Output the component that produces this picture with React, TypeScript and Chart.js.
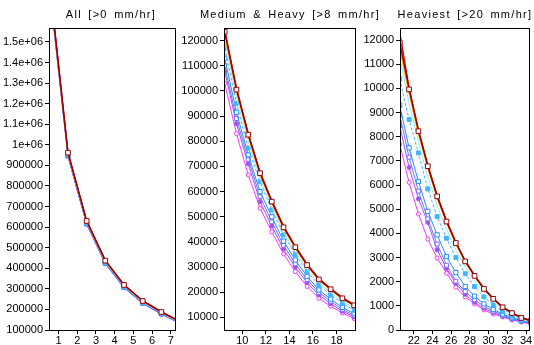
import React, { useEffect, useRef } from "react";
import { Chart, registerables } from "chart.js";
Chart.register(...registerables);

// ---------- data ----------
const xAll = [0.5, 1.5, 2.5, 3.5, 4.5, 5.5, 6.5, 7.5];
const xMed = [8.5, 9.5, 10.5, 11.5, 12.5, 13.5, 14.5, 15.5, 16.5, 17.5, 18.5, 19.5];
const xHeavy = [20.5, 21.5, 22.5, 23.5, 24.5, 25.5, 26.5, 27.5, 28.5, 29.5, 30.5, 31.5, 32.5, 33.5, 34.5];

const darkRedAll = [1800000, 962000, 630000, 437000, 319000, 241000, 187500, 141000];
const redAll = [1810000, 965000, 632000, 439000, 321000, 243000, 189000, 142000];
const orangeAll = [1805000, 963000, 631000, 438000, 320000, 242000, 188000, 141500];
const yellowAll = [1795000, 958000, 627000, 434000, 316000, 239000, 185500, 139500];
const paleCyanAll = [1790000, 955000, 624000, 431000, 313000, 236000, 183000, 137500];
const lightBlueAll = [1785000, 952000, 621000, 428000, 311000, 234000, 181000, 136000];
const blueAll = [1780000, 948000, 617000, 425000, 308000, 232000, 179500, 135000];
const violetAll = [1778000, 947000, 616000, 424000, 307000, 231000, 178500, 134000];
const purpleAll = [1775000, 945000, 615000, 423000, 306000, 230000, 177500, 133500];
const magentaAll = [1772000, 944000, 614000, 422000, 305000, 229000, 176000, 132000];

const darkRedMed = [123500, 100500, 82600, 67300, 56000, 45800, 37900, 30800, 25100, 21200, 17600, 14800];
const redMed = [124500, 101300, 83200, 67900, 56500, 46300, 38300, 31200, 25500, 21500, 17900, 15100];
const orangeMed = [124000, 100900, 82900, 67600, 56200, 46000, 38100, 31000, 25300, 21300, 17700, 14900];
const yellowMed = [122000, 99500, 81500, 66500, 55200, 45100, 37300, 30300, 24700, 20800, 17200, 14400];
const paleCyanMed = [120000, 97500, 79800, 65000, 53800, 43800, 36000, 29200, 23800, 19900, 16400, 13700];
const lightBlueMed = [117000, 95000, 77300, 63900, 52700, 42800, 35000, 28200, 22900, 19000, 15600, 12900];
const blueMed = [113000, 91500, 74600, 60000, 50000, 40300, 32800, 26300, 20900, 17300, 14000, 11500];
const violetMed = [110000, 89000, 72800, 58000, 48000, 38700, 31300, 25000, 19900, 16400, 13200, 10800];
const purpleMed = [108000, 87000, 71000, 56000, 46300, 37200, 30000, 23900, 18900, 15500, 12500, 10200];
const magentaMed = [103000, 83000, 66600, 53400, 44000, 35200, 28200, 22300, 17600, 14400, 11800, 9500];

const darkRedHeavy = [11900, 9960, 8230, 6780, 5530, 4490, 3600, 2840, 2240, 1700, 1290, 940, 700, 500, 380];
const redHeavy = [12350, 10050, 8300, 6840, 5580, 4540, 3640, 2870, 2270, 1730, 1310, 960, 720, 520, 400];
const orangeHeavy = [12200, 10000, 8260, 6810, 5560, 4520, 3620, 2860, 2260, 1720, 1300, 950, 710, 510, 390];
const yellowHeavy = [11600, 9750, 8080, 6680, 5440, 4410, 3540, 2790, 2200, 1670, 1260, 920, 690, 490, 370];
const paleCyanHeavy = [11300, 9400, 7800, 6350, 5150, 4180, 3330, 2620, 2060, 1560, 1180, 860, 640, 460, 350];
const lightBlueHeavy = [10400, 8710, 7330, 5840, 4700, 3800, 3000, 2330, 1800, 1370, 1040, 760, 570, 410, 310];
const blueHeavy = [9300, 7540, 6150, 4910, 3940, 3040, 2380, 1800, 1400, 1080, 850, 660, 510, 390, 300];
const violetHeavy = [8900, 7150, 5750, 4600, 3560, 2680, 2020, 1590, 1250, 980, 780, 610, 470, 370, 290];
const purpleHeavy = [8440, 6730, 5430, 4450, 3320, 2550, 1930, 1480, 1150, 900, 720, 570, 440, 350, 270];
const magentaHeavy = [7680, 6110, 4800, 3760, 2980, 2350, 1770, 1360, 1080, 830, 660, 540, 415, 330, 250];

const titleAll = "All [>0 mm/hr]";
const titleMed = "Medium & Heavy [>8 mm/hr]";
const titleHeavy = "Heaviest [>20 mm/hr]";

const xTicksAll = [1, 2, 3, 4, 5, 6, 7];
const xTicksMed = [10, 12, 14, 16, 18];
const xTicksHeavy = [22, 24, 26, 28, 30, 32, 34];
const yTicksAll = [100000, 200000, 300000, 400000, 500000, 600000, 700000, 800000, 900000, 1000000, 1100000, 1200000, 1300000, 1400000, 1500000];
const yTicksMed = [10000, 20000, 30000, 40000, 50000, 60000, 70000, 80000, 90000, 100000, 110000, 120000];
const yTicksHeavy = [0, 1000, 2000, 3000, 4000, 5000, 6000, 7000, 8000, 9000, 10000, 11000, 12000];

// ---------- styles ----------
type Style = { color: string; dash?: number[]; point: string | false; fill?: boolean; r?: number; w?: number };
const styles: Style[] = [
  { color: "#990000", point: "rect", fill: false, r: 3.3, w: 1.5 },
  { color: "#e00000", point: false, w: 1.2 },
  { color: "#ff7700", point: false, w: 1 },
  { color: "#ffcc00", point: false, w: 1 },
  { color: "#99e6ff", point: false, w: 1 },
  { color: "#44b4ff", point: "rect", fill: true, r: 2.8, w: 1, dash: [3, 2] },
  { color: "#1f8fff", point: "rect", fill: false, r: 3, w: 1 },
  { color: "#7a6cff", point: "rect", fill: false, r: 2.8, w: 1 },
  { color: "#9955ee", point: "circle", fill: true, r: 2, w: 1 },
  { color: "#ff33ff", point: "circle", fill: false, r: 2, w: 1 },
];

function makeDatasets(xs: number[], series: number[][]) {
  return series.map((vals, i) => {
    const s = styles[i];
    return {
      data: xs.map((x, j) => ({ x, y: vals[j] })),
      borderColor: s.color,
      borderWidth: s.w ?? 1,
      borderDash: s.dash ?? [],
      pointStyle: s.point === false ? "circle" : s.point,
      pointRadius: s.point === false ? 0 : s.r ?? 3,
      pointBackgroundColor: s.fill ? s.color : "#ffffff",
      pointBorderColor: s.color,
      pointBorderWidth: 1,
      fill: false,
      tension: 0,
    };
  });
}

const framePlugin = {
  id: "frame",
  afterDraw(chart: any) {
    const { ctx, chartArea } = chart;
    const l = Math.round(chartArea.left) + 0.5;
    const t = Math.round(chartArea.top) + 0.5;
    const r = Math.round(chartArea.right) + 0.5;
    const b = Math.round(chartArea.bottom) + 0.5;
    ctx.save();
    ctx.strokeStyle = "#000";
    ctx.lineWidth = 1;
    ctx.strokeRect(l, t, r - l, b - t);
    ctx.restore();
  },
};

const FONT = "'Liberation Sans', Arial, sans-serif";

function fmtAll(v: number) {
  if (v >= 1000000) return (v / 1000000).toString() + "e+06";
  return String(v);
}

type PanelProps = {
  left: number;
  width: number;
  axisW: number;
  padRight: number;
  xMin: number;
  xMax: number;
  yMin: number;
  yMax: number;
  xTicks: number[];
  yTicks: number[];
  fmt: (v: number) => string;
  xs: number[];
  series: number[][];
};

function Panel(p: PanelProps) {
  const ref = useRef<HTMLCanvasElement>(null);
  useEffect(() => {
    if (!ref.current) return;
    const chart = new Chart(ref.current, {
      type: "line",
      data: { datasets: makeDatasets(p.xs, p.series) as any },
      options: {
        animation: false,
        responsive: false,
        devicePixelRatio: 1,
        layout: { padding: { top: 28, right: p.padRight, left: 0, bottom: 0 } },
        plugins: { legend: { display: false }, tooltip: { enabled: false }, title: { display: false } },
        scales: {
          x: {
            type: "linear",
            min: p.xMin,
            max: p.xMax,
            afterBuildTicks: (s: any) => {
              s.ticks = p.xTicks.map((v) => ({ value: v }));
            },
            afterFit: (s: any) => {
              s.height = 15;
            },
            grid: { display: true, drawOnChartArea: false, drawTicks: true, tickLength: 4, color: "#000" },
            border: { display: false },
            ticks: { color: "#000", padding: 0, font: { family: FONT, size: 11 }, maxRotation: 0, autoSkip: false },
          },
          y: {
            type: "linear",
            min: p.yMin,
            max: p.yMax,
            afterBuildTicks: (s: any) => {
              s.ticks = p.yTicks.map((v) => ({ value: v }));
            },
            afterFit: (s: any) => {
              s.width = p.axisW;
            },
            grid: { display: true, drawOnChartArea: false, drawTicks: true, tickLength: 4, color: "#000" },
            border: { display: false },
            ticks: {
              color: "#000",
              padding: 2,
              font: { family: FONT, size: 11 },
              autoSkip: false,
              callback: (v: any) => p.fmt(Number(v)),
            },
          },
        },
      },
      plugins: [framePlugin],
    });
    return () => chart.destroy();
  }, []);
  return (
    <canvas
      ref={ref}
      width={p.width}
      height={345}
      style={{ position: "absolute", left: p.left, top: 0, width: p.width, height: 345 }}
    />
  );
}

function Title({ text, center }: { text: string; center: number }) {
  return (
    <div
      style={{
        position: "absolute",
        left: center - 150,
        width: 300,
        top: 7,
        textAlign: "center",
        fontFamily: FONT,
        fontSize: 11,
        letterSpacing: 1.3,
        wordSpacing: 2,
        color: "#000",
        lineHeight: "14px",
        whiteSpace: "nowrap",
      }}
    >
      {text}
    </div>
  );
}

export default function App() {
  return (
    <div style={{ position: "fixed", left: 0, top: 0, width: 534, height: 345, background: "#fff", overflow: "hidden" }}>
      <Panel
        left={0}
        width={180}
        axisW={49}
        padRight={4}
        xMin={0.485}
        xMax={7.23}
        yMin={100000}
        yMax={1568000}
        xTicks={xTicksAll}
        yTicks={yTicksAll}
        fmt={fmtAll}
        xs={xAll}
        series={[darkRedAll, redAll, orangeAll, yellowAll, paleCyanAll, lightBlueAll, blueAll, violetAll, purpleAll, magentaAll]}
      />
      <Panel
        left={178}
        width={182}
        axisW={46}
        padRight={3}
        xMin={8.44}
        xMax={19.57}
        yMin={5000}
        yMax={125000}
        xTicks={xTicksMed}
        yTicks={yTicksMed}
        fmt={(v) => String(v)}
        xs={xMed}
        series={[darkRedMed, redMed, orangeMed, yellowMed, paleCyanMed, lightBlueMed, blueMed, violetMed, purpleMed, magentaMed]}
      />
      <Panel
        left={358}
        width={176}
        axisW={42}
        padRight={3}
        xMin={20.53}
        xMax={34.32}
        yMin={0}
        yMax={12500}
        xTicks={xTicksHeavy}
        yTicks={yTicksHeavy}
        fmt={(v) => String(v)}
        xs={xHeavy}
        series={[darkRedHeavy, redHeavy, orangeHeavy, yellowHeavy, paleCyanHeavy, lightBlueHeavy, blueHeavy, violetHeavy, purpleHeavy, magentaHeavy]}
      />
      <Title text={titleAll} center={111} />
      <Title text={titleMed} center={290} />
      <Title text={titleHeavy} center={465} />
    </div>
  );
}
